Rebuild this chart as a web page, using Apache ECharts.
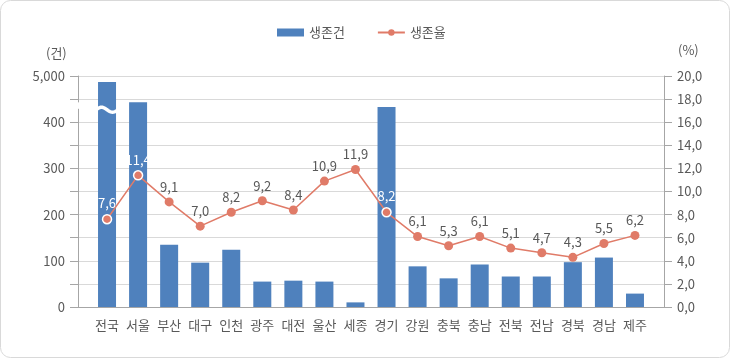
<!DOCTYPE html>
<html><head><meta charset="utf-8">
<script src="https://cdn.jsdelivr.net/npm/echarts@6/dist/echarts.min.js"></script>
<style>html,body{margin:0;padding:0;background:#fff}#c{width:730px;height:358px}</style>
</head><body><div id="c"></div>
<script>
const categories = ['전국','서울','부산','대구','인천','광주','대전','울산','세종','경기','강원','충북','충남','전북','전남','경북','경남','제주'];
// 생존건 (전국 drawn on the broken top section of the axis)
const survivalCount = [487, 443, 135, 96, 124, 55, 57, 55, 10, 433, 88, 62, 92, 66, 66, 97, 107, 29];
// 생존율 (%)
const survivalRate = [7.6, 11.4, 9.1, 7.0, 8.2, 9.2, 8.4, 10.9, 11.9, 8.2, 6.1, 5.3, 6.1, 5.1, 4.7, 4.3, 5.5, 6.2];
const leftTicks = {0:'0',100:'100',200:'200',300:'300',400:'400',500:'5,000'};
const whiteLabelIdx = [0, 1, 9];

const FONT = '"Noto Sans CJK KR", "Noto Sans", sans-serif';
const GRAY = '#595959';
const BAR = '#4F81BD';
const LINE = '#E07B68';

const chart = echarts.init(document.getElementById('c'), null, {renderer:'canvas'});
const option = {
  animation: false,
  textStyle: {fontFamily: FONT},
  legend: {
    left: 272, top: 21, itemGap: 32, itemWidth: 27, itemHeight: 8,
    textStyle: {color: GRAY, fontSize: 13, fontFamily: FONT},
    data: [{name:'생존건', icon:'rect'}, {name:'생존율'}]
  },
  grid: [
    {left: 78, right: 66, top: 76, bottom: 51},
    {left: 91.5, right: 79.5, top: 76, bottom: 51}
  ],
  xAxis: [
    {type:'value', gridIndex:0, min:0, max:1, axisLabel:{show:false}, axisTick:{show:false}, splitLine:{show:false},
     axisLine:{show:true, lineStyle:{color:'#a6a6a6'}}},
    {type:'category', gridIndex:1, data: categories, axisLine:{show:false}, axisTick:{show:false},
     axisLabel:{color:GRAY, fontSize:13, margin:12, interval:0, fontFamily: FONT}}
  ],
  yAxis: [
    {type:'value', gridIndex:0, min:0, max:500, interval:50, position:'left',
     axisLine:{show:true, lineStyle:{color:'#a6a6a6'}},
     axisTick:{show:true, length:8, lineStyle:{color:'#a6a6a6'}},
     axisLabel:{color:GRAY, fontSize:13, margin:13, fontFamily: FONT, formatter: v => (leftTicks[v] !== undefined ? leftTicks[v] : '')},
     splitLine:{show:true, lineStyle:{color:'#d9d9d9'}}},
    {type:'value', gridIndex:0, min:0, max:20, interval:2, position:'right',
     axisLine:{show:true, lineStyle:{color:'#a6a6a6'}},
     axisTick:{show:true, length:8, lineStyle:{color:'#a6a6a6'}},
     axisLabel:{color:GRAY, fontSize:13, margin:13, fontFamily: FONT, formatter: v => v.toFixed(1).replace('.', ',')},
     splitLine:{show:false}},
    {type:'value', gridIndex:1, min:0, max:500, interval:50, show:false, splitLine:{show:false}},
    {type:'value', gridIndex:1, min:0, max:20, interval:2, show:false, splitLine:{show:false}}
  ],
  series: [
    {name:'생존건', type:'bar', xAxisIndex:1, yAxisIndex:2, data: survivalCount, barWidth:18,
     itemStyle:{color: BAR}},
    {name:'생존율', type:'line', xAxisIndex:1, yAxisIndex:3, z:5,
     data: survivalRate.map((v,i) => whiteLabelIdx.includes(i) ? {
       value: v,
       itemStyle:{color: LINE, borderColor:'#fff', borderWidth:1.5},
       label:{color:'#fff'}
     } : v),
     symbol:'circle', symbolSize:9,
     lineStyle:{color: LINE, width:1.5},
     itemStyle:{color: LINE, borderWidth:0},
     label:{show:true, position:'top', distance:4, color:GRAY, fontSize:13, fontFamily: FONT,
            formatter: p => p.value.toFixed(1).replace('.', ',')}}
  ]
};
chart.setOption(option);

// broken-axis decorations drawn through the library's scales
const p = chart.convertToPixel({seriesIndex:0}, [categories[0], 427]);
const pts = [];
for (let k = 0; k <= 24; k++) {
  const t = k / 24;
  pts.push([p[0] - 11 + 22 * t, p[1] - 2.5 * Math.sin(t * 2 * Math.PI)]);
}
const axX = chart.convertToPixel({xAxisIndex:0}, 0);
const gTop = chart.convertToPixel({yAxisIndex:0}, 443);
const gBot = chart.convertToPixel({yAxisIndex:0}, 429);
chart.setOption({
  graphic: [
    {type:'rect', shape:{x:0.5, y:0.5, width:729, height:357, r:10}, style:{fill:'none', stroke:'#d9d9d9', lineWidth:1}, z:0, silent:true},
    {type:'polyline', shape:{points: pts}, style:{stroke:'#fff', lineWidth:3.5, fill:'none'}, z:100},
    {type:'rect', shape:{x: axX - 3, y: gTop, width: 6, height: gBot - gTop}, style:{fill:'#fff'}, z:100},
    {type:'text', left: 46, top: 47, style:{text:'(건)', fill:GRAY, font:'13px ' + FONT}, z:100},
    {type:'text', left: 678, top: 44, style:{text:'(%)', fill:GRAY, font:'13px ' + FONT}, z:100}
  ]
});
</script></body></html>
